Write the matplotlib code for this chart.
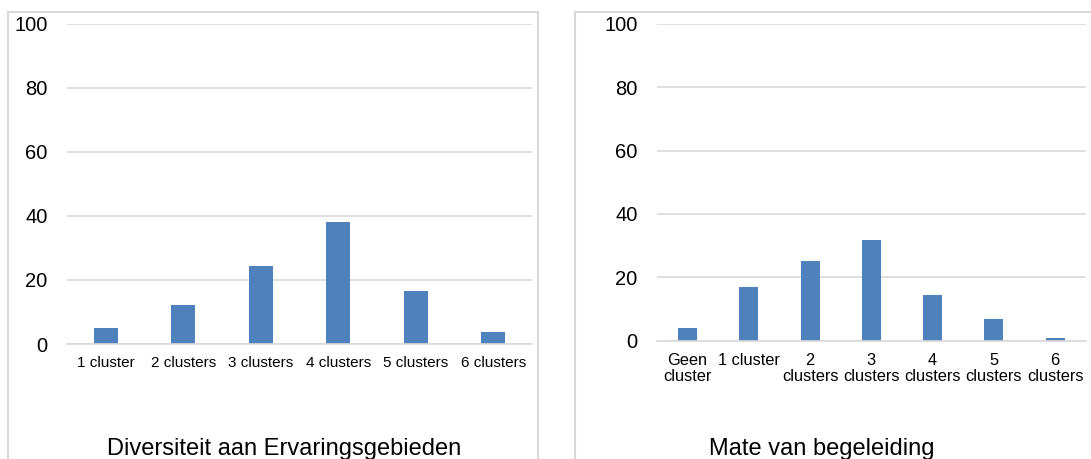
import matplotlib
matplotlib.use("Agg")
import matplotlib.pyplot as plt
from matplotlib.patches import Rectangle

plt.rcParams["font.family"] = ["Liberation Sans", "DejaVu Sans"]

# left chart: diversity of experience areas
div_labels = ["1 cluster", "2 clusters", "3 clusters", "4 clusters",
              "5 clusters", "6 clusters"]
div_values = [5.1, 12.1, 24.4, 38.1, 16.4, 3.6]
div_title = "Diversiteit aan Ervaringsgebieden"

# right chart: amount of guidance
beg_labels = ["Geen\ncluster", "1 cluster", "2\nclusters", "3\nclusters",
              "4\nclusters", "5\nclusters", "6\nclusters"]
beg_values = [4.1, 17.0, 25.0, 31.9, 14.4, 6.9, 0.8]
beg_title = "Mate van begeleiding"

yticks = [0, 20, 40, 60, 80, 100]

BLUE = "#4f81bd"
GRID = "#d9d9d9"
W, H = 1091, 459


def px(x0, y0, x1, y1):
    # pixel box (top-left origin) -> figure fraction [l, b, w, h]
    return [x0 / W, 1 - y1 / H, (x1 - x0) / W, (y1 - y0) / H]


def bar_panel(ax, labels, values, xfont, xpad):
    x = range(len(labels))
    ax.bar(x, values, width=0.31, color=BLUE, zorder=3)
    ax.set_xlim(-0.5, len(labels) - 0.5)
    ax.set_ylim(0, 100)
    ax.set_yticks(yticks)
    ax.set_xticks(list(x))
    ax.set_xticklabels(labels, fontsize=xfont, linespacing=1.1)
    ax.tick_params(axis="y", length=0, pad=14, labelsize=14.5)
    ax.tick_params(axis="x", length=0, pad=xpad)
    ax.grid(axis="y", color=GRID, linewidth=1.2, zorder=0)
    for s in ["top", "right", "left"]:
        ax.spines[s].set_visible(False)
    ax.spines["bottom"].set_color(GRID)
    ax.spines["bottom"].set_linewidth(1.2)
    ax.spines["bottom"].set_zorder(4)


fig = plt.figure(figsize=(W / 100, H / 100), dpi=100)

# chart frames (light grey borders, cut off by the image edge)
fig.patches.append(Rectangle((8 / W, -0.1), (538 - 8) / W, 1.1 - 11.7 / H,
                             transform=fig.transFigure, fill=False,
                             edgecolor=GRID, linewidth=1.5))
fig.patches.append(Rectangle((575 / W, -0.1), 0.6, 1.1 - 11.7 / H,
                             transform=fig.transFigure, fill=False,
                             edgecolor=GRID, linewidth=1.5))

ax1 = fig.add_axes(px(67, 23.7, 532, 344))
bar_panel(ax1, div_labels, div_values, 11, 8.5)

ax2 = fig.add_axes(px(657, 23.7, 1085.7, 340.7))
bar_panel(ax2, beg_labels, beg_values, 11.8, 8.5)

fig.text(284 / W, 1 - 455 / H, div_title, fontsize=17, ha="center",
         va="baseline")
fig.text(822 / W, 1 - 455 / H, beg_title, fontsize=17, ha="center",
         va="baseline")

fig.savefig("out.png", dpi=100)
